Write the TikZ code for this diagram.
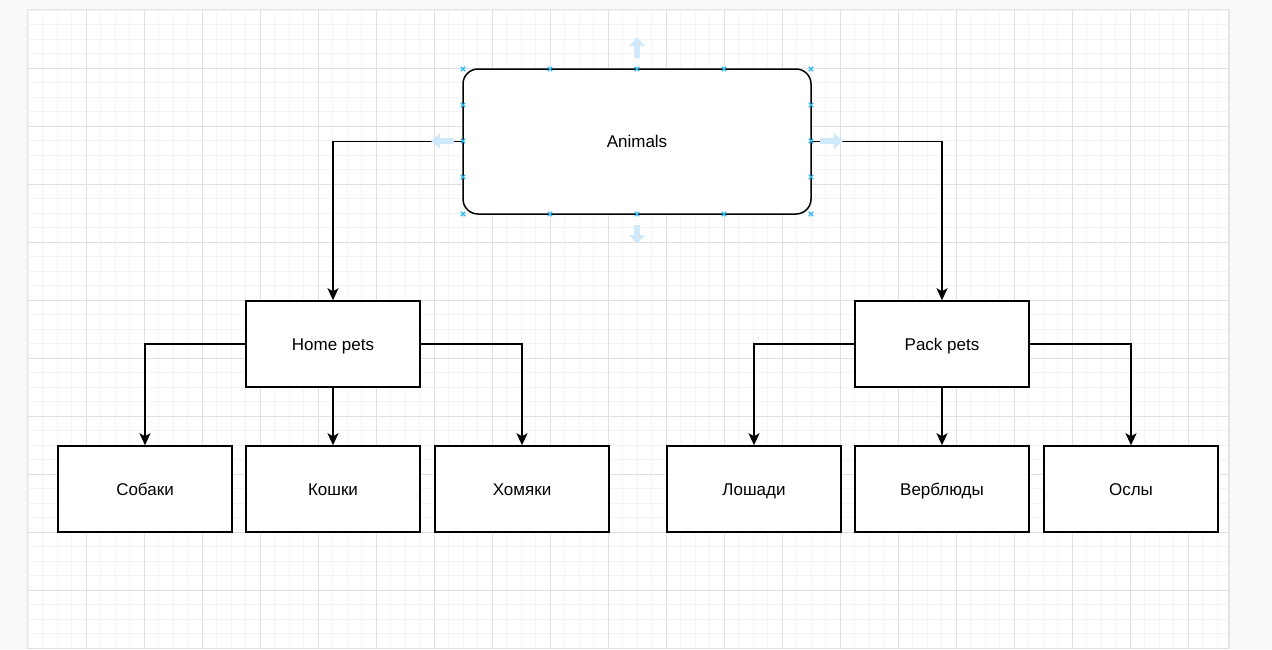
\documentclass[tikz,border=0pt]{standalone}
\usepackage{fontspec}
\setmainfont{Liberation Sans}
\usetikzlibrary{arrows.meta}
\definecolor{gridminor}{HTML}{F4F4F4}
\definecolor{gridmajor}{HTML}{E0E0E0}
\definecolor{outside}{HTML}{F9F9F9}
\definecolor{pageshadow}{HTML}{E4E4E4}
\definecolor{handle}{HTML}{29B6F2}
\definecolor{hint}{HTML}{CFE9FA}
\begin{document}
\begin{tikzpicture}[x=1pt,y=-1pt,
  minorline/.style={draw=gridminor, line width=1pt},
  majorline/.style={draw=gridmajor, line width=1pt},
  box/.style={draw=black, line width=1.5pt, fill=white, inner sep=0pt,
    minimum width=174pt, minimum height=86pt,
    text height=12.3pt, text depth=0pt,
    font=\fontsize{17}{20}\selectfont},
  rootbox/.style={box, rounded corners=15pt, minimum width=348pt, minimum height=145pt},
  conn/.style={draw=black, line width=1.5pt, -{Stealth[length=12pt, width=11pt, inset=3pt]}},
  hmark/.style={draw=handle, line width=1.1pt},
  hintarrow/.style={draw=hint, line width=6pt, -{Triangle[length=9pt, width=15pt]}}
]
\useasboundingbox (0,0) rectangle (1272,649);

% workspace and page
\fill[outside] (0,0) rectangle (1272,649);
\fill[pageshadow] (26.5,8.5) rectangle (1229.5,649);
\fill[white] (28,10) rectangle (1228,649);

% grid: minor every 14.5, major every 58
\foreach \i in {0,...,82} \path[minorline] ({28+14.5*\i},10) -- ({28+14.5*\i},649);
\foreach \j in {0,...,44} \path[minorline] (28,{10+14.5*\j}) -- (1228,{10+14.5*\j});
\foreach \i in {1,...,20} \path[majorline] ({28+58*\i},10) -- ({28+58*\i},649);
\foreach \j in {1,...,11} \path[majorline] (28,{10+58*\j}) -- (1228,{10+58*\j});

% nodes
\node[rootbox] (animals) at (637,141.5) {Animals};
\node[box] (home) at (333,344) {Home pets};
\node[box] (pack) at (942,344) {Pack pets};
\node[box] (dogs) at (145,489) {Собаки};
\node[box] (cats) at (333,489) {Кошки};
\node[box] (hamsters) at (522,489) {Хомяки};
\node[box] (horses) at (754,489) {Лошади};
\node[box] (camels) at (942,489) {Верблюды};
\node[box] (donkeys) at (1131,489) {Ослы};

% connectors
\draw[conn] (animals.west) -| (home.north);
\draw[conn] (animals.east) -| (pack.north);
\draw[conn] (home.west) -| (dogs.north);
\draw[conn] (home.south) -- (cats.north);
\draw[conn] (home.east) -| (hamsters.north);
\draw[conn] (pack.west) -| (horses.north);
\draw[conn] (pack.south) -- (camels.north);
\draw[conn] (pack.east) -| (donkeys.north);

% selection hint arrows around the root
\draw[hintarrow] (637,58) -- (637,37);
\draw[hintarrow] (637,225) -- (637,244);
\draw[hintarrow] (454,141) -- (431,141);
\draw[hintarrow] (820,141) -- (843,141);

% selection handles on the root
\foreach \x/\y in {463/69, 550/69, 637/69, 724/69, 811/69,
                   463/214, 550/214, 637/214, 724/214, 811/214,
                   463/105, 463/141, 463/177, 811/105, 811/141, 811/177}
  \draw[hmark] (\x-2.2,\y-2.2) -- (\x+2.2,\y+2.2) (\x-2.2,\y+2.2) -- (\x+2.2,\y-2.2);
\end{tikzpicture}
\end{document}
